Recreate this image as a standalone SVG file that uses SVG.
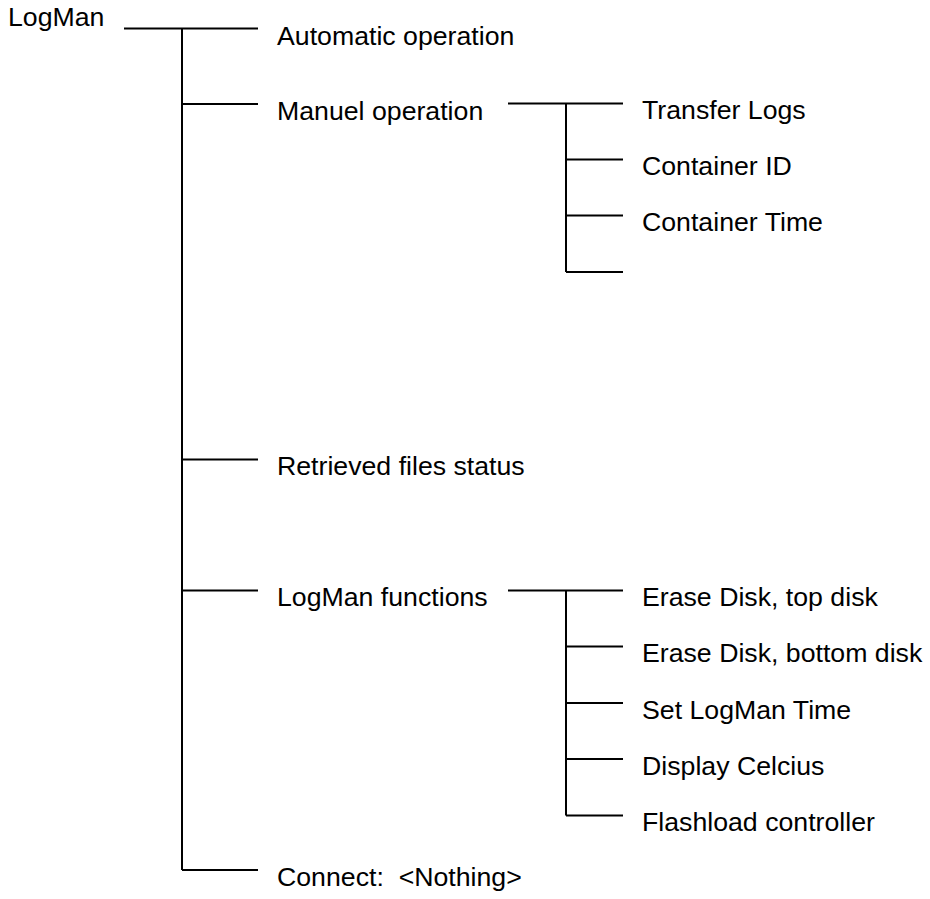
<svg xmlns="http://www.w3.org/2000/svg" width="930" height="899" viewBox="0 0 930 899">
<style>
text{font-family:"Liberation Sans",Arial,sans-serif;font-size:26.7px;fill:#000}
.c line{stroke:#000;stroke-width:2;fill:none}
</style>
<rect width="930" height="899" fill="#fff"/>
<g class="c" id="connectors">
<line x1="124" y1="28.5" x2="258" y2="28.5"/>
<line x1="182" y1="28.5" x2="182" y2="870"/>
<line x1="182" y1="104" x2="258" y2="104"/>
<line x1="182" y1="459.5" x2="258" y2="459.5"/>
<line x1="182" y1="590.5" x2="258" y2="590.5"/>
<line x1="182" y1="870" x2="258" y2="870"/>
<line x1="508" y1="103.5" x2="623" y2="103.5"/>
<line x1="566" y1="103.5" x2="566" y2="272"/>
<line x1="566" y1="159.5" x2="623" y2="159.5"/>
<line x1="566" y1="215.5" x2="623" y2="215.5"/>
<line x1="566" y1="272" x2="623" y2="272"/>
<line x1="508" y1="590.5" x2="623" y2="590.5"/>
<line x1="566" y1="590.5" x2="566" y2="815.5"/>
<line x1="566" y1="646.5" x2="623" y2="646.5"/>
<line x1="566" y1="703" x2="623" y2="703"/>
<line x1="566" y1="759" x2="623" y2="759"/>
<line x1="566" y1="815.5" x2="623" y2="815.5"/>
</g>
<g id="root"><text x="8" y="26">LogMan</text></g>
<g id="auto"><text x="277" y="45">Automatic operation</text></g>
<g id="manuel"><text x="277" y="120">Manuel operation</text></g>
<g id="transfer"><text x="642" y="119">Transfer Logs</text></g>
<g id="contid"><text x="642" y="175">Container ID</text></g>
<g id="conttime"><text x="642" y="231">Container Time</text></g>
<g id="retrieved"><text x="277" y="475">Retrieved files status</text></g>
<g id="functions"><text x="277" y="606">LogMan functions</text></g>
<g id="erasetop"><text x="642" y="606">Erase Disk, top disk</text></g>
<g id="erasebottom"><text x="642" y="662">Erase Disk, bottom disk</text></g>
<g id="settime"><text x="642" y="719">Set LogMan Time</text></g>
<g id="celcius"><text x="642" y="775">Display Celcius</text></g>
<g id="flashload"><text x="642" y="831">Flashload controller</text></g>
<g id="connect"><text x="277" y="886" xml:space="preserve">Connect:  &lt;Nothing&gt;</text></g>
</svg>
